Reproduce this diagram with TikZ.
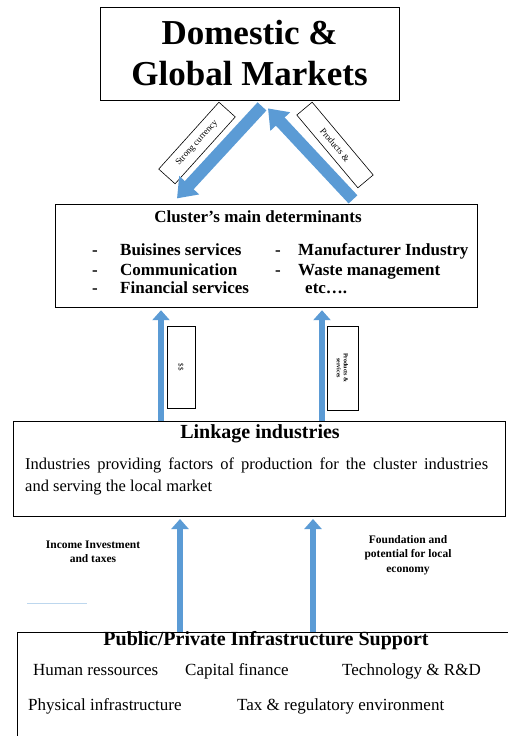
\documentclass[tikz,border=0pt]{standalone}
\usepackage{fontspec}
\setmainfont{Liberation Serif}
\usepackage{xcolor}
\usepackage{tikz}
\usetikzlibrary{arrows.meta, positioning}

\definecolor{flowblue}{HTML}{5B9BD5}
\definecolor{flowedge}{HTML}{41719C}
\definecolor{paleblue}{HTML}{BDD7EE}

\begin{document}
\begin{tikzpicture}[
    x=1pt, y=-1pt,
    frame/.style={rectangle, draw, line width=0.8pt, inner sep=0pt, minimum width=#1},
    tagbox/.style={rectangle, draw, line width=0.6pt, inner sep=1pt, align=center, font=\fontsize{9}{10}\selectfont},
    head/.style={inner sep=0pt, font=\fontsize{#1}{#1}\selectfont\bfseries},
    item/.style={inner sep=0pt, anchor=base west, font=\fontsize{17}{18}\selectfont\bfseries},
    plain/.style={inner sep=0pt, anchor=base west, font=\fontsize{17}{18}\selectfont},
    note/.style={inner sep=0pt, align=center, font=\fontsize{11.5}{14.5}\selectfont\bfseries},
    bigarrow/.style={-{Triangle[width=26pt, length=18pt]}, line width=12pt, color=flowblue},
    arrow/.style={-{Triangle[width=17pt, length=10pt]}, line width=6pt, color=flowblue, shorten >=2pt},
]
\useasboundingbox (0,0) rectangle (508,736);

% Boxes
\node[frame=299pt, minimum height=93pt, align=center, font=\fontsize{35}{41}\selectfont\bfseries] (markets) at (249.5,53.5) {Domestic \&\\Global Markets};
\node[frame=422pt, minimum height=103pt, below=104pt of markets, xshift=16.5pt] (cluster) {};
\node[frame=492pt, minimum height=95pt, below=113pt of cluster, xshift=-7pt] (linkage) {};
\node[frame=503pt, minimum height=120pt, below=115pt of linkage, xshift=9.5pt] (infra) {};

% Cluster text
\node[head=17] (clhead) at (258,217) {Cluster's main determinants};
\node[item] at (92,255) {-};
\node[item] at (120,255) {Buisines services};
\node[item] at (92,275) {-};
\node[item] at (120,275) {Communication};
\node[item] at (92,293) {-};
\node[item] at (120,293) {Financial services};
\node[item] at (275,255) {-};
\node[item] at (298,255) {Manufacturer Industry};
\node[item] at (275,275) {-};
\node[item] at (298,275) {Waste management};
\node[item] at (305,293) {etc\dots.};

% Linkage text
\node[head=20] (lkhead) at (260,434) {Linkage industries};
\node[inner sep=0pt, anchor=north west, text width=463pt, align=justify, font=\fontsize{16.5}{22}\selectfont] (lkbody) at (25,458)
    {Industries providing factors of production for the cluster industries\linebreak and serving the local market};

% Infrastructure text
\node[head=20] (infhead) at (266,641) {Public/Private Infrastructure Support};
\node[plain] at (33,675) {Human ressources};
\node[plain] at (185,675) {Capital finance};
\node[plain] at (342,675) {Technology \& R\&D};
\node[plain] at (28,710) {Physical infrastructure};
\node[plain] at (237,710) {Tax \& regulatory environment};

% Labels
\node[tagbox, rotate=48, minimum width=90pt, minimum height=22pt] (currency) at (197,143) {Strong currency};
\node[tagbox, rotate=-50, minimum width=95pt, minimum height=20pt] (products) at (335,145) {Products \&};
\node[tagbox, rotate=-90, minimum width=82pt, minimum height=28pt, font=\fontsize{7}{8}\selectfont] (money) at (181,367) {\$\$};
\node[tagbox, rotate=-90, minimum width=84pt, minimum height=31pt, font=\fontsize{6}{7}\selectfont\bfseries] (goods) at (342.5,368) {Products \&\\services};
\node[note] (income) at (93,552) {Income Investment\\and taxes};
\node[note] (found) at (408,555) {Foundation and\\potential for local\\economy};
\draw[paleblue, line width=0.8pt] (27,603) -- (87,603);

% Flows
\draw[bigarrow] ([xshift=12.5pt, yshift=-6pt]markets.south) -- ([xshift=-89pt, yshift=6pt]cluster.north);
\draw[bigarrow] ([xshift=87pt, yshift=5pt]cluster.north) -- ([xshift=18.5pt, yshift=-8pt]markets.south);
\draw[arrow] ([xshift=-98pt]linkage.north) -- ([xshift=-105pt]cluster.south);
\draw[arrow] ([xshift=63pt]linkage.north) -- ([xshift=56pt]cluster.south);
\draw[arrow] ([xshift=-88.5pt]infra.north) -- ([xshift=-79pt]linkage.south);
\draw[arrow] ([xshift=44.5pt]infra.north) -- ([xshift=54pt]linkage.south);

\end{tikzpicture}
\end{document}
